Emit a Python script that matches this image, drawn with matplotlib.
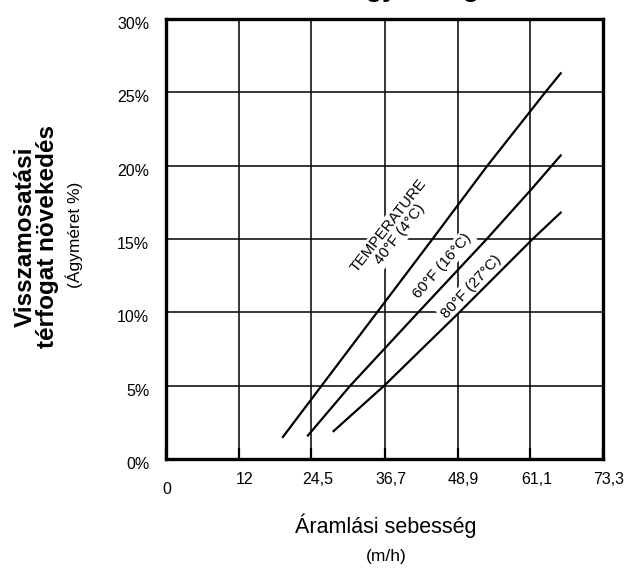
import matplotlib
matplotlib.use("Agg")
import matplotlib.pyplot as plt
import matplotlib.transforms as mtransforms

plt.rcParams['font.family'] = ['Liberation Sans', 'DejaVu Sans']

# flow velocity ticks (m/h) and bed expansion (%)
x_ticks = [0, 12.2, 24.4, 36.7, 48.9, 61.1, 73.3]
x_tick_labels = ["0", "12", "24,5", "36,7", "48,9", "61,1", "73,3"]
y_ticks = [0, 5, 10, 15, 20, 25, 30]
y_tick_labels = ["0%", "5%", "10%", "15%", "20%", "25%", "30%"]

# curves
velocity_40 = [19.6, 26.1, 35.4, 44.7, 53.9, 63.6, 66.2]
expansion_40 = [1.5, 5, 10, 15, 20, 25, 26.3]
velocity_60 = [23.8, 30.9, 42.3, 53.8, 61.3, 66.2]
expansion_60 = [1.6, 5, 10, 15, 18.4, 20.7]
velocity_80 = [28.1, 36.6, 49.2, 61.5, 66.2]
expansion_80 = [1.9, 5, 10, 15, 16.8]

fig = plt.figure(figsize=(6.26, 5.68), dpi=100)
ax = fig.add_axes([0.2652, 0.1919, 0.6981, 0.7746])

for xs, ys in [(velocity_40, expansion_40), (velocity_60, expansion_60), (velocity_80, expansion_80)]:
    ax.plot(xs, ys, color="black", lw=1.6, zorder=3)

ax.set_xlim(0, 73.3)
ax.set_ylim(0, 30)
ax.set_xticks(x_ticks, x_tick_labels)
ax.set_yticks(y_ticks, y_tick_labels)
ax.grid(True, color="black", lw=1.1)
ax.set_axisbelow(True)
for s in ax.spines.values():
    s.set_linewidth(2.4)
ax.tick_params(axis="x", direction="in", length=8, width=1.6, pad=9, labelsize=11.5)
ax.tick_params(axis="y", length=0, pad=12, labelsize=11.5)

# nudge tick labels like in the original
for i, lab in enumerate(ax.get_xticklabels()):
    if i == 0:
        off = mtransforms.ScaledTranslation(0.01, -0.10, fig.dpi_scale_trans)
    else:
        off = mtransforms.ScaledTranslation(0.06, 0, fig.dpi_scale_trans)
    lab.set_transform(lab.get_transform() + off)
for lab in ax.get_yticklabels():
    off = mtransforms.ScaledTranslation(0, -0.04, fig.dpi_scale_trans)
    lab.set_transform(lab.get_transform() + off)

box = dict(facecolor="white", edgecolor="none", pad=1.5)
ax.text(38.3, 15.6, "TEMPERATURE\n40°F (4°C)", rotation=52, ha="center", va="center",
        fontsize=11, linespacing=1.0, bbox=box, zorder=2)
ax.text(46.4, 13.2, "60°F (16°C)", rotation=49, ha="center", va="center",
        fontsize=11, bbox=box, zorder=2)
ax.text(51.2, 11.75, "80°F (27°C)", rotation=47, ha="center", va="center",
        fontsize=11, bbox=box, zorder=2)

# axis titles
fig.text(386 / 626, 1 - 526 / 568, "Áramlási sebesség", ha="center", va="center", fontsize=15.5)
fig.text(386 / 626, 1 - 556 / 568, "(m/h)", ha="center", va="center", fontsize=12.5)
fig.text(36 / 626, 1 - 237 / 568, "Visszamosatási\ntérfogat növekedés", rotation=90,
         ha="center", va="center", fontsize=17.5, fontweight="bold", linespacing=0.95)
fig.text(74 / 626, 1 - 235 / 568, "(Ágyméret %)", rotation=90, ha="center", va="center",
         fontsize=12.5)

# title, cut off by the top edge
fig.text(425 / 626, 1.006, "Ágy térfogat", ha="center", va="baseline",
         fontsize=19, fontweight="bold")

fig.savefig("out.png", dpi=100)
